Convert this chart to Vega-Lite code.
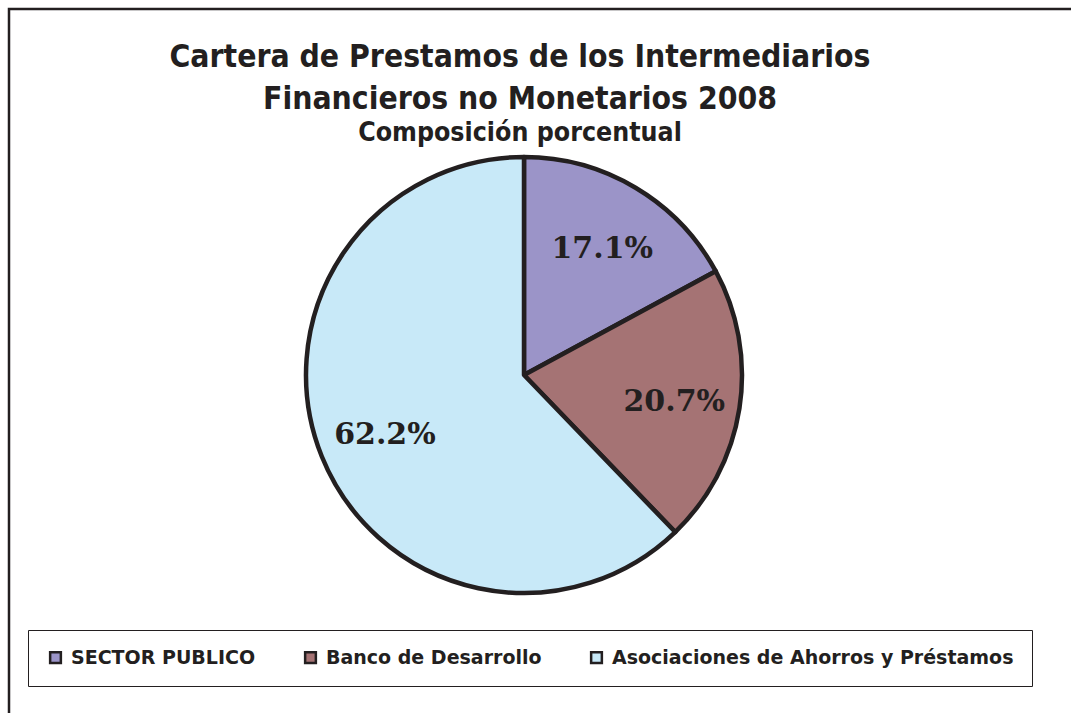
{
  "$schema": "https://vega.github.io/schema/vega-lite/v6.json",
  "autosize": "none",
  "width": 1080,
  "height": 720,
  "padding": {"left": 9, "top": 9, "right": 0, "bottom": 0},
  "background": "white",
  "view": {"stroke": "#231F20", "strokeWidth": 2.5, "fill": "white"},
  "config": {
    "view": {"stroke": "#231F20", "strokeWidth": 2.5}
  },
  "title": {
    "text": ["Cartera de Prestamos de los Intermediarios", "Financieros no Monetarios 2008"],
    "subtitle": "Composición porcentual",
    "anchor": "middle",
    "frame": "group",
    "dx": -29,
    "offset": -137,
    "font": "DejaVu Sans Condensed",
    "fontSize": 31.6,
    "fontWeight": "bold",
    "lineHeight": 42,
    "color": "#231F20",
    "subtitleFont": "DejaVu Sans Condensed",
    "subtitleFontSize": 26.5,
    "subtitleFontWeight": "bold",
    "subtitleColor": "#231F20",
    "subtitlePadding": 4
  },
  "data": {
    "values": [
      {"categoria": "SECTOR PUBLICO", "valor": 17.1, "orden": 1, "etiqueta": "17.1%"},
      {"categoria": "Banco de Desarrollo", "valor": 20.7, "orden": 2, "etiqueta": "20.7%"},
      {"categoria": "Asociaciones de Ahorros y Préstamos", "valor": 62.2, "orden": 3, "etiqueta": "62.2%"}
    ]
  },
  "encoding": {
    "theta": {"field": "valor", "type": "quantitative", "stack": true},
    "order": {"field": "orden", "type": "quantitative"}
  },
  "layer": [
    {
      "mark": {"type": "arc", "outerRadius": 218, "stroke": "#231F20", "strokeWidth": 4.5, "strokeJoin": "round", "xOffset": -25, "yOffset": 6},
      "encoding": {
        "color": {
          "field": "categoria",
          "type": "nominal",
          "scale": {
            "domain": ["SECTOR PUBLICO", "Banco de Desarrollo", "Asociaciones de Ahorros y Préstamos"],
            "range": ["#9B94C8", "#A57374", "#C8E9F8"]
          },
          "legend": {
            "title": null,
            "orient": "none",
            "legendX": 19,
            "legendY": 621,
            "direction": "horizontal",
            "columns": 3,
            "columnPadding": 44,
            "padding": 18,
            "strokeColor": "#231F20",
            "symbolType": "square",
            "symbolSize": 115,
            "symbolStrokeColor": "#231F20",
            "symbolStrokeWidth": 2.5,
            "symbolOpacity": 1,
            "labelFont": "DejaVu Sans",
            "labelFontWeight": "bold",
            "labelFontSize": 19,
            "labelColor": "#231F20",
            "labelOffset": 6,
            "labelLimit": 600
          }
        }
      }
    },
    {
      "mark": {"type": "text", "radius": 151, "font": "DejaVu Serif", "fontWeight": "bold", "fontSize": 30, "color": "#231F20", "xOffset": -24, "yOffset": 10},
      "encoding": {
        "text": {"field": "etiqueta", "type": "nominal"}
      }
    }
  ]
}
